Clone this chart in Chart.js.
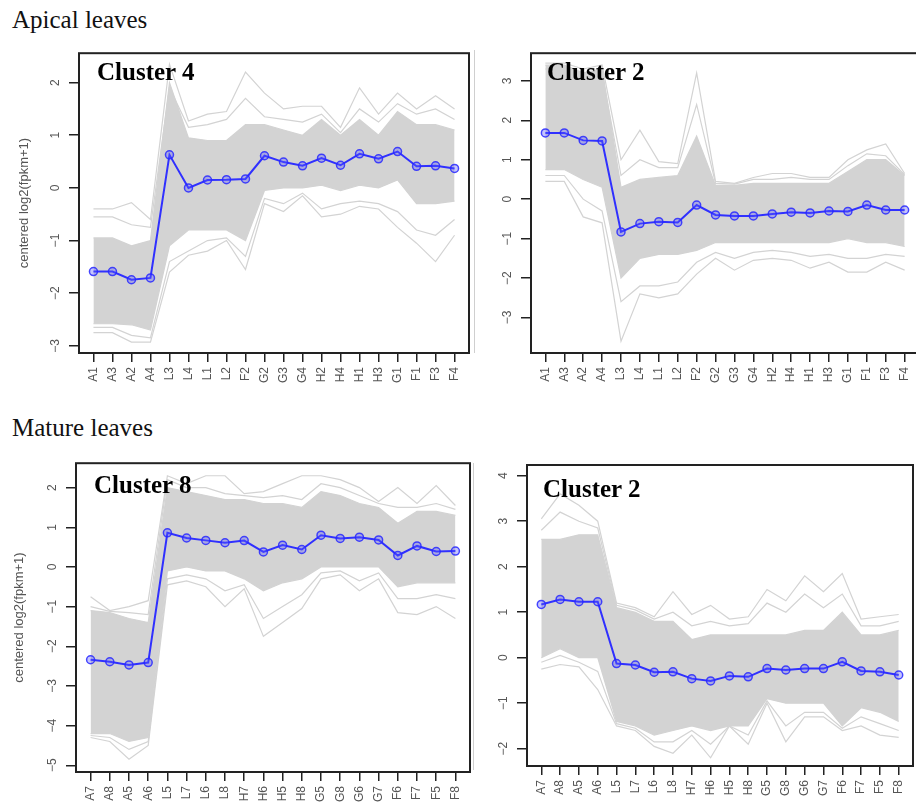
<!DOCTYPE html>
<html>
<head>
<meta charset="utf-8">
<script src="https://cdn.jsdelivr.net/npm/chart.js@4.4.1/dist/chart.umd.min.js"></script>
<style>
  html, body { margin: 0; padding: 0; background: #fff; overflow: hidden; width: 916px; height: 804px; }
  canvas { position: absolute; }
  .heading { position: absolute; font-family: "Liberation Serif", serif; font-size: 25px; line-height: 1; color: #111; }
  .cluster { position: absolute; font-family: "Liberation Serif", serif; font-weight: bold; font-size: 25px; line-height: 1; color: #000; }
  .edge { position: absolute; width: 1px; background: #cfcfcf; }
</style>
</head>
<body>
<div class="heading" style="left:12px; top:7px;">Apical leaves</div>
<div class="heading" style="left:12px; top:415px;">Mature leaves</div>

<canvas id="apical4" width="478" height="364" style="left:0px; top:40px;"></canvas>
<canvas id="apical2" width="460" height="364" style="left:470px; top:40px;"></canvas>
<canvas id="mature8" width="478" height="380" style="left:0px; top:450px;"></canvas>
<canvas id="mature2" width="450" height="380" style="left:470px; top:450px;"></canvas>

<div class="edge" style="left:474px; top:50px; height:303px;"></div>
<div class="edge" style="left:473px; top:463px; height:307px;"></div>

<div class="cluster" style="left:97px; top:59px;">Cluster 4</div>
<div class="cluster" style="left:547px; top:59px;">Cluster 2</div>
<div class="cluster" style="left:94px; top:472px;">Cluster 8</div>
<div class="cluster" style="left:543px; top:476px;">Cluster 2</div>

<script>
// sample order on the x axis
const apicalLabels = ['A1','A3','A2','A4','L3','L4','L1','L2','F2','G2','G3','G4','H2','H4','H1','H3','G1','F1','F3','F4'];
const matureLabels = ['A7','A8','A5','A6','L5','L7','L6','L8','H7','H6','H5','H8','G5','G8','G6','G7','F6','F7','F5','F8'];

// Apical leaves, cluster 4  (mean profile, dense band edges, a few outer member genes)
const apical4Mean    = [-1.59,-1.59,-1.745,-1.71,0.627,0.0,0.15,0.155,0.17,0.61,0.49,0.42,0.565,0.43,0.646,0.553,0.69,0.41,0.42,0.37];
const apical4CoreHi  = [-0.95,-0.95,-1.1,-1.0,2.0,0.95,0.9,0.9,1.2,1.2,1.1,1.0,1.3,1.0,1.3,1.0,1.45,1.2,1.2,1.1];
const apical4CoreLo  = [-2.58,-2.58,-2.6,-2.7,-1.1,-0.8,-0.8,-0.8,-1.0,-0.05,0.0,0.0,0.05,-0.05,0.05,0.0,0.15,-0.3,-0.3,-0.25];
const apical4Upper   = [-0.55,-0.55,-0.7,-0.75,1.9,1.15,1.2,1.3,1.7,1.35,1.3,1.25,1.4,1.05,1.5,1.25,1.6,1.4,1.5,1.3];
const apical4Lower   = [-2.65,-2.65,-2.8,-2.85,-1.4,-1.2,-1.0,-0.95,-1.3,-0.2,-0.3,-0.1,-0.4,-0.3,-0.25,-0.3,-0.45,-0.8,-0.9,-0.6];
const apical4OuterHi = [-0.4,-0.4,-0.28,-0.6,2.35,1.27,1.4,1.45,2.2,1.8,1.5,1.55,1.55,1.15,1.9,1.4,1.8,1.5,1.75,1.5];
const apical4OuterLo = [-2.75,-2.75,-2.93,-2.93,-1.6,-1.28,-1.2,-1.0,-1.55,-0.3,-0.45,-0.15,-0.55,-0.5,-0.35,-0.4,-0.75,-1.05,-1.4,-0.9];
const apical4Ticks   = [-3,-2,-1,0,1,2];

// Apical leaves, cluster 2
const apical2Mean    = [1.68,1.68,1.49,1.475,-0.83,-0.62,-0.57,-0.59,-0.15,-0.40,-0.425,-0.425,-0.375,-0.33,-0.35,-0.30,-0.31,-0.15,-0.275,-0.275];
const apical2CoreHi  = [3.4,3.4,3.2,3.3,0.3,0.5,0.55,0.6,1.6,0.35,0.35,0.4,0.4,0.4,0.4,0.4,0.7,1.0,1.0,0.6];
const apical2CoreLo  = [0.75,0.75,0.5,0.3,-2.0,-1.5,-1.4,-1.4,-1.3,-1.1,-1.1,-1.1,-1.1,-1.1,-1.1,-1.1,-1.0,-1.1,-1.1,-1.2];
const apical2Upper   = [3.3,3.3,3.1,3.2,0.6,1.0,0.8,0.8,2.4,0.4,0.38,0.5,0.5,0.55,0.5,0.5,0.85,1.15,1.1,0.62];
const apical2Lower   = [0.6,0.6,0.0,-0.3,-2.6,-2.2,-2.2,-2.1,-1.6,-1.35,-1.5,-1.35,-1.3,-1.35,-1.45,-1.4,-1.5,-1.5,-1.4,-1.45];
const apical2OuterHi = [3.45,3.45,3.3,3.4,1.0,1.75,0.95,0.9,3.2,0.45,0.4,0.55,0.65,0.65,0.55,0.55,1.0,1.25,1.4,0.65];
const apical2OuterLo = [0.45,0.45,-0.45,-0.6,-3.6,-2.4,-2.5,-2.4,-1.9,-1.5,-1.8,-1.55,-1.5,-1.55,-1.75,-1.6,-1.85,-1.85,-1.6,-1.8];
const apical2Ticks   = [-3,-2,-1,0,1,2,3];

// Mature leaves, cluster 8
const mature8Mean    = [-2.34,-2.39,-2.47,-2.41,0.86,0.73,0.67,0.61,0.665,0.38,0.55,0.44,0.80,0.72,0.75,0.68,0.29,0.53,0.39,0.40];
const mature8CoreHi  = [-1.1,-1.15,-1.3,-1.4,2.0,1.9,1.8,1.7,1.7,1.6,1.6,1.5,1.9,1.8,1.6,1.5,1.1,1.4,1.4,1.3];
const mature8CoreLo  = [-4.2,-4.2,-4.4,-4.3,-0.1,0.0,-0.1,-0.1,-0.3,-0.6,-0.4,-0.3,0.0,0.0,0.0,0.0,-0.5,-0.4,-0.4,-0.4];
const mature8Upper   = [-1.0,-1.12,-1.15,-1.2,2.2,2.0,2.0,1.85,1.8,1.75,1.8,1.7,2.1,2.0,1.8,1.6,1.5,1.5,1.6,1.45];
const mature8Lower   = [-4.25,-4.3,-4.6,-4.4,-0.3,-0.2,-0.3,-0.6,-0.45,-1.3,-1.0,-0.7,-0.15,-0.1,-0.35,-0.15,-0.8,-0.8,-0.7,-0.8];
const mature8OuterHi = [-0.75,-1.1,-1.0,-0.85,2.3,2.1,2.3,2.3,1.85,1.9,2.1,2.3,2.3,2.2,2.0,1.65,2.0,1.6,2.05,1.55];
const mature8OuterLo = [-4.3,-4.4,-4.85,-4.5,-0.45,-0.35,-0.5,-1.0,-0.55,-1.75,-1.4,-1.05,-0.3,-0.2,-0.6,-0.3,-1.15,-1.2,-1.0,-1.3];
const mature8Ticks   = [-5,-4,-3,-2,-1,0,1,2];

// Mature leaves, cluster 2
const mature2Mean    = [1.17,1.28,1.23,1.23,-0.13,-0.16,-0.32,-0.31,-0.46,-0.51,-0.40,-0.42,-0.24,-0.27,-0.24,-0.24,-0.09,-0.29,-0.31,-0.38];
const mature2CoreHi  = [2.6,2.6,2.7,2.7,1.1,1.0,0.8,0.8,0.4,0.5,0.5,0.5,0.5,0.5,0.6,0.6,1.0,0.5,0.5,0.6];
const mature2CoreLo  = [0.0,0.2,0.0,0.0,-1.4,-1.5,-1.7,-1.6,-1.5,-1.6,-1.5,-1.5,-0.9,-1.0,-1.0,-1.0,-1.5,-1.1,-1.2,-1.4];
const mature2Upper   = [2.8,3.2,3.0,2.85,1.15,1.05,0.85,1.0,0.7,0.8,0.7,0.75,1.2,1.0,1.4,1.1,1.4,0.7,0.7,0.8];
const mature2Lower   = [-0.1,0.05,-0.1,-0.3,-1.45,-1.55,-1.85,-1.85,-1.6,-1.9,-1.5,-1.7,-0.95,-1.5,-1.2,-1.2,-1.55,-1.3,-1.45,-1.6];
const mature2OuterHi = [3.05,3.6,3.35,3.0,1.2,1.1,0.9,1.45,0.95,1.15,0.85,0.9,1.5,1.25,1.8,1.45,1.85,0.85,0.9,0.95];
const mature2OuterLo = [-0.25,-0.15,-0.2,-0.7,-1.5,-1.6,-1.95,-2.1,-1.7,-2.2,-1.5,-1.9,-1.0,-1.85,-1.3,-1.3,-1.6,-1.5,-1.7,-1.75];
const mature2Ticks   = [-2,-1,0,1,2,3,4];

const GREY = '#d3d3d3';
const AXIS = '#222';

// draw the R style frame round the plot region
const boxPlugin = {
  id: 'box',
  afterDatasetsDraw(chart) {
    const { ctx, chartArea: a } = chart;
    ctx.save();
    ctx.strokeStyle = AXIS;
    ctx.lineWidth = 2;
    ctx.strokeRect(a.left, a.top, a.right - a.left, a.bottom - a.top);
    ctx.restore();
  }
};

function toPoints(values) {
  return values.map((v, i) => ({ x: i + 1, y: v }));
}

function greyLine(values, fill) {
  return {
    data: toPoints(values),
    borderColor: GREY,
    backgroundColor: GREY,
    borderWidth: 1.2,
    pointRadius: 0,
    fill: fill,
    order: 1
  };
}

function makePanel(id, labels, s, ticks, yMin, yMax, lay) {
  new Chart(document.getElementById(id), {
    type: 'line',
    data: {
      datasets: [
        greyLine(s.coreHi, '+1'),
        greyLine(s.coreLo, false),
        greyLine(s.upper, false),
        greyLine(s.lower, false),
        greyLine(s.outerHi, false),
        greyLine(s.outerLo, false),
        {
          data: toPoints(s.mean),
          borderColor: '#3030ff',
          borderWidth: 2,
          pointRadius: 4,
          pointBorderWidth: 1.5,
          pointBorderColor: 'rgba(40,40,255,0.85)',
          pointBackgroundColor: 'rgba(90,90,255,0.35)',
          fill: false,
          order: 0
        }
      ]
    },
    options: {
      responsive: false,
      animation: false,
      events: [],
      elements: { line: { tension: 0 } },
      layout: { padding: { top: lay.padTop, right: lay.padRight, left: 0, bottom: 0 } },
      plugins: { legend: { display: false }, tooltip: { enabled: false } },
      scales: {
        x: {
          type: 'linear',
          min: 0.24,
          max: 20.76,
          afterBuildTicks: sc => { sc.ticks = labels.map((l, i) => ({ value: i + 1 })); },
          afterFit: sc => { sc.height = lay.xHeight; },
          border: { display: false },
          grid: { drawOnChartArea: false, drawTicks: true, tickLength: 9, color: AXIS, lineWidth: 1.5 },
          ticks: {
            autoSkip: false,
            minRotation: 90,
            maxRotation: 90,
            padding: 5,
            color: '#555',
            font: { family: 'Liberation Sans', size: 12 },
            callback: (v, i) => labels[i]
          }
        },
        y: {
          type: 'linear',
          min: yMin,
          max: yMax,
          afterBuildTicks: sc => { sc.ticks = ticks.map(v => ({ value: v })); },
          afterFit: sc => { sc.width = lay.yWidth; },
          border: { display: false },
          grid: { drawOnChartArea: false, drawTicks: true, tickLength: 10, color: AXIS, lineWidth: 1.5 },
          ticks: {
            minRotation: 90,
            maxRotation: 90,
            crossAlign: 'center',
            padding: 6,
            color: '#555',
            font: { family: 'Liberation Sans', size: 12 },
            callback: v => String(v).replace('-', '\u2212')
          },
          title: {
            display: lay.title,
            text: 'centered log2(fpkm+1)',
            color: '#555',
            font: { family: 'Liberation Sans', size: 13 },
            padding: { top: lay.titlePad, bottom: 0 }
          }
        }
      }
    },
    plugins: [boxPlugin]
  });
}

makePanel('apical4', apicalLabels,
  { mean: apical4Mean, coreHi: apical4CoreHi, coreLo: apical4CoreLo, upper: apical4Upper, lower: apical4Lower, outerHi: apical4OuterHi, outerLo: apical4OuterLo },
  apical4Ticks, -3.136, 2.558, { padTop: 7, padRight: 9, xHeight: 51, yWidth: 79, title: true, titlePad: 17 });
makePanel('apical2', apicalLabels,
  { mean: apical2Mean, coreHi: apical2CoreHi, coreLo: apical2CoreLo, upper: apical2Upper, lower: apical2Lower, outerHi: apical2OuterHi, outerLo: apical2OuterLo },
  apical2Ticks, -3.9, 3.7, { padTop: 9, padRight: 11, xHeight: 51, yWidth: 61, title: false, titlePad: 0 });
makePanel('mature8', matureLabels,
  { mean: mature8Mean, coreHi: mature8CoreHi, coreLo: mature8CoreLo, upper: mature8Upper, lower: mature8Lower, outerHi: mature8OuterHi, outerLo: mature8OuterLo },
  mature8Ticks, -5.17, 2.616, { padTop: 13, padRight: 8, xHeight: 58, yWidth: 76, title: true, titlePad: 12 });
makePanel('mature2', matureLabels,
  { mean: mature2Mean, coreHi: mature2CoreHi, coreLo: mature2CoreLo, upper: mature2Upper, lower: mature2Lower, outerHi: mature2OuterHi, outerLo: mature2OuterLo },
  mature2Ticks, -2.38, 4.235, { padTop: 15, padRight: 7, xHeight: 64, yWidth: 57, title: false, titlePad: 0 });
</script>
</body>
</html>
